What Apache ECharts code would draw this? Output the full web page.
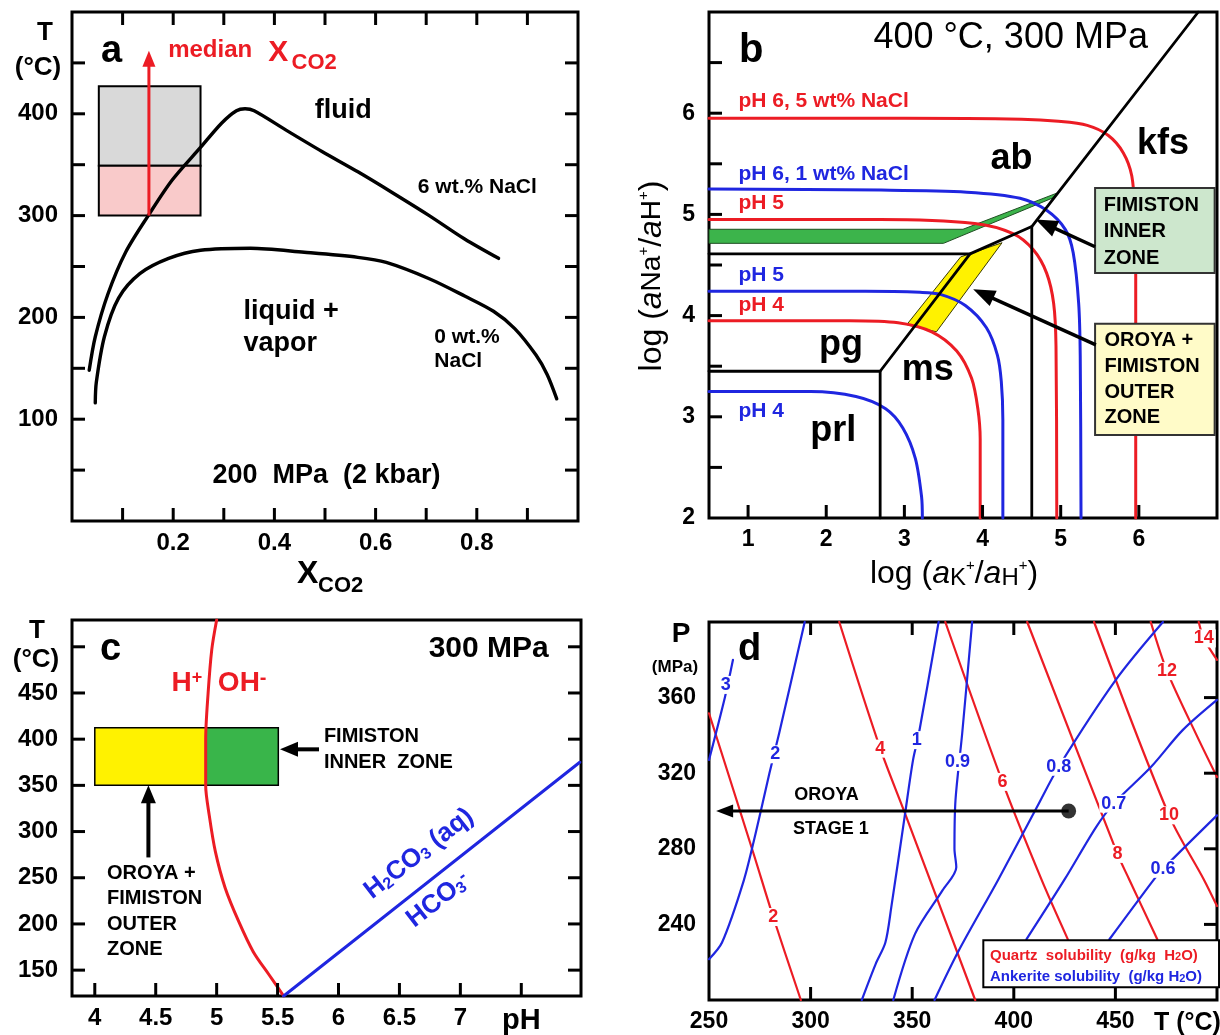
<!DOCTYPE html>
<html><head><meta charset="utf-8"><title>Phase diagrams</title>
<script src="https://cdn.jsdelivr.net/npm/echarts@6.0.0/dist/echarts.min.js"></script>
<style>html,body{margin:0;padding:0;background:#fff;}#chart{width:1220px;height:1035px;}</style>
</head><body><div id="chart"></div>
<script>
// ================= DATA =================
// ---- Panel a : T vs X_CO2, 200 MPa ----
const aXLabels = [0.2, 0.4, 0.6, 0.8];
const aXTicks = [0.1, 0.2, 0.3, 0.4, 0.5, 0.6, 0.7, 0.8, 0.9];
const aYLabels = [100, 200, 300, 400];
const aYTicks = [50, 100, 150, 200, 250, 300, 350, 400, 450];
const aNaCl6 = [[0.034,148],[0.046,181],[0.071,223],[0.106,264],[0.152,301],[0.198,335],[0.254,367],[0.296,391],[0.325,403],[0.342,405],[0.360,403],[0.423,384],[0.494,363],[0.565,343],[0.635,322],[0.706,300],[0.776,277],[0.843,258]];
const aNaCl0 = [[0.046,116],[0.048,136],[0.064,181],[0.092,219],[0.134,243],[0.191,258],[0.254,266],[0.353,268],[0.459,264],[0.565,259],[0.621,254],[0.706,238],[0.776,221],[0.833,206],[0.875,189],[0.917,163],[0.939,144],[0.958,120]];
const aBoxUpper = [[0.053,349],[0.254,427]];
const aBoxLower = [[0.053,300],[0.254,349]];
const aMedianArrow = [[0.152,300],[0.152,462]];

// ---- Panel b : log(aNa/aH) vs log(aK/aH), 400 C 300 MPa ----
const bXLabels = [1, 2, 3, 4, 5, 6];
const bYLabels = [2, 3, 4, 5, 6];
const bYTicks = [2.5, 3, 3.5, 4, 4.5, 5, 5.5, 6, 6.5];
const bRedPH6 = [[0.5,5.95],[3.0,5.95],[4.5,5.94],[4.97,5.92],[5.34,5.88],[5.61,5.78],[5.80,5.61],[5.91,5.38],[5.95,5.0],[5.96,4.5],[5.96,2.0]];
const bBluePH6 = [[0.5,5.25],[2.7,5.24],[3.8,5.22],[4.48,5.16],[4.82,5.04],[5.06,4.85],[5.16,4.62],[5.23,4.12],[5.25,3.6],[5.26,2.0]];
const bRedPH5 = [[0.5,4.95],[2.69,4.95],[3.9,4.91],[4.39,4.81],[4.65,4.65],[4.82,4.42],[4.91,4.12],[4.94,3.7],[4.95,2.0]];
const bBluePH5 = [[0.5,4.24],[2.5,4.24],[3.2,4.23],[3.46,4.21],[3.78,4.10],[4.05,3.88],[4.19,3.61],[4.24,3.35],[4.26,2.97],[4.26,2.0]];
const bRedPH4 = [[0.5,3.95],[2.3,3.95],[2.92,3.93],[3.35,3.84],[3.67,3.65],[3.86,3.38],[3.94,3.08],[3.97,2.78],[3.97,2.0]];
const bBluePH4 = [[0.5,3.25],[1.8,3.25],[2.38,3.2],[2.76,3.08],[2.98,2.89],[3.14,2.59],[3.22,2.21],[3.23,2.0]];
const bAbKfsLine = [[0.5,4.61],[3.84,4.61],[4.63,4.88],[6.76,7.0]];
const bMsKfsLine = [[4.63,4.88],[4.63,2.0]];
const bPgMsLine = [[3.84,4.61],[2.69,3.45]];
const bPrlLine = [[0.5,3.45],[2.69,3.45],[2.69,2.0]];
const bInnerPoly = [[0.5,4.714],[3.50,4.714],[4.89,5.16],[4.95,5.21],[3.75,4.853],[0.5,4.853]];
const bOuterPoly = [[3.03,3.91],[3.41,3.84],[4.25,4.72],[3.72,4.58]];
const bInnerBox = [[5.44,4.42],[6.97,5.26]];
const bOuterBox = [[5.44,2.82],[6.97,3.92]];
const bInnerArrow = [[5.44,4.68],[4.68,4.95]];
const bOuterArrow = [[5.45,3.71],[3.88,4.26]];

// ---- Panel c : T vs pH, 300 MPa ----
const cXLabels = [4, 4.5, 5, 5.5, 6, 6.5, 7, 7.5];
const cYTicks = [150, 200, 250, 300, 350, 400, 450, 500];
const cYLabels = [150, 200, 250, 300, 350, 400, 450];
const cNeutral = [[5.0,529],[4.96,497],[4.93,450],[4.91,400],[4.91,350],[4.94,317],[4.99,278],[5.07,239],[5.18,203],[5.30,170],[5.43,145],[5.55,122]];
const cCarbonate = [[5.55,122],[7.98,375]];
const cOuterBox = [[4.0,350],[4.9125,412.4]];
const cInnerBox = [[4.9125,350],[5.506,412.4]];
const cInnerArrow = [[5.84,389],[5.52,389]];
const cOuterArrow = [[4.44,272],[4.44,350]];

// ---- Panel d : P vs T, solubility contours ----
const dXLabels = [250, 300, 350, 400, 450];
const dXTicks = [300, 350, 400, 450];
const dYLabels = [240, 280, 320, 360];
const dQuartz2 = [[250,351.7],[271.9,277.5],[281.6,243.9],[295.2,200]];
const dQuartz4 = [[314.1,400],[334.3,333],[346.5,298.6],[381,200]];
const dQuartz6 = [[366.3,400],[394.4,315.4],[413.6,263.8],[426.6,232.1]];
const dQuartz8 = [[406.6,400],[451,277.3],[456.8,263.8],[470.6,232.1]];
const dQuartz10 = [[439.5,400],[476.4,297.7],[493.5,263.8],[500,249.7]];
const dQuartz12 = [[467.4,400],[475.4,374],[490,340],[500,318]];
const dQuartz14 = [[491,400],[493.5,391.3],[500,380]];
const dAnk3 = [[250,327],[257.9,360.5],[261.8,380]];
const dAnk2 = [[250,221.6],[256.4,230.4],[267.1,263.2],[272.9,288],[279.7,319.8],[284.5,341],[297.1,400]];
const dAnk1 = [[325.2,200],[332,219],[336.8,230.4],[339.7,249],[346.5,298.6],[350.4,326.9],[353.3,341],[363,400]];
const dAnk09 = [[340.7,200],[351.4,235],[364.9,258],[371.7,270.3],[370.8,280],[371.3,305.7],[374.6,341],[379.5,400]];
const dAnk08 = [[361,200],[372.8,225.9],[392.4,263.8],[411.4,302.1],[422.1,323.4],[450.2,369.4],[473.4,400]];
const dAnk07 = [[406.2,232.1],[425,263.8],[440.5,291.5],[449.2,303.9],[467.6,323.4],[483.1,342.8],[500,358.8]];
const dAnk06 = [[447,232],[469,263.8],[473.4,269.4],[500,297.7]];
const dLegendBox = [[385,206.7],[501,231.6]];
const dOroyaArrow = [[427,300],[253.5,300]];
const dOroyaDot = [[427,300]];

// ================= HELPERS =================
const FONT = '"Liberation Sans", Arial, Helvetica, sans-serif';
const RED = '#ec1c24', BLUE = '#1f26e0', BLACK = '#000';

function near(list, v){ return list.some(function(t){ return Math.abs(t - v) < 1e-6; }); }
function lineS(xi, yi, data, color, width, smooth, z){
  return {type:'line', xAxisIndex:xi, yAxisIndex:yi, data:data, symbol:'none', showSymbol:false,
    smooth: smooth || false, lineStyle:{color:color, width:width, cap:'round', join:'round'},
    itemStyle:{color:color}, z: z || 3, silent:true, animation:false};
}
function polyS(xi, yi, pts, fill, stroke, lw, z){
  return {type:'custom', xAxisIndex:xi, yAxisIndex:yi, data:[pts[0]], z: z || 2, silent:true, animation:false,
    renderItem:function(p, api){
      return {type:'polygon', shape:{points: pts.map(function(q){ return api.coord(q); })},
        style:{fill:fill, stroke: stroke || null, lineWidth: lw || 0}};
    }};
}
function rectPts(r){ return [[r[0][0],r[0][1]],[r[1][0],r[0][1]],[r[1][0],r[1][1]],[r[0][0],r[1][1]]]; }
function arrowS(xi, yi, pts, color, width, headLen, headW, z){
  return {type:'custom', xAxisIndex:xi, yAxisIndex:yi, data:[pts[0]], z: z || 6, silent:true, animation:false,
    renderItem:function(p, api){
      var a = api.coord(pts[0]), b = api.coord(pts[1]);
      var dx = b[0]-a[0], dy = b[1]-a[1], L = Math.hypot(dx, dy), ux = dx/L, uy = dy/L;
      var base = [b[0]-ux*headLen, b[1]-uy*headLen];
      var l = [base[0]-uy*headW/2, base[1]+ux*headW/2], r = [base[0]+uy*headW/2, base[1]-ux*headW/2];
      return {type:'group', children:[
        {type:'line', shape:{x1:a[0], y1:a[1], x2:base[0]+ux*2, y2:base[1]+uy*2}, style:{stroke:color, lineWidth:width}},
        {type:'polygon', shape:{points:[b, l, r]}, style:{fill:color}}
      ]};
    }};
}
// inward tick marks on one side of a grid; 'other' is the axis value of that border
function tickS(xi, yi, side, values, other){
  var isX = (side === 'bottom' || side === 'top');
  return {type:'custom', xAxisIndex:xi, yAxisIndex:yi, z:20, silent:true, animation:false,
    data: values.map(function(v){ return isX ? [v, other] : [other, v]; }),
    renderItem:function(p, api){
      var c = api.coord([api.value(0), api.value(1)]), L = 13, d;
      if (side === 'bottom') d = [0, -L]; else if (side === 'top') d = [0, L];
      else if (side === 'left') d = [L, 0]; else d = [-L, 0];
      return {type:'line', shape:{x1:c[0], y1:c[1], x2:c[0]+d[0], y2:c[1]+d[1]}, style:{stroke:BLACK, lineWidth:3}};
    }};
}
function textS(xi, yi, items, z){
  return {type:'custom', xAxisIndex:xi, yAxisIndex:yi, data: items.map(function(t){ return [t.x, t.y]; }),
    z: z || 10, silent:true, animation:false,
    renderItem:function(p, api){
      var t = items[p.dataIndex], c = api.coord([t.x, t.y]);
      var st = {text:t.t, fill:t.color || BLACK, fontSize:t.size || 20, fontWeight:t.weight || 'bold', fontFamily:FONT,
        align:t.align || 'center', verticalAlign:'middle', textAlign:t.align || 'center', textVerticalAlign:'middle'};
      if (t.rich) st.rich = t.rich;
      if (t.bg) { st.backgroundColor = t.bg; st.padding = [0, 2]; }
      return {type:'text', x:c[0], y:c[1], rotation:(t.rot || 0) * Math.PI / 180, style:st};
    }};
}
function gText(x, y, text, size, opts){
  opts = opts || {};
  var st = {text:text, fill:opts.color || BLACK, fontSize:size, fontWeight:opts.weight || 'bold', fontFamily:FONT,
    align:opts.align || 'center', verticalAlign:'middle', textAlign:opts.align || 'center', textVerticalAlign:'middle'};
  if (opts.rich) st.rich = opts.rich;
  return {type:'text', x:x, y:y, rotation:opts.rot || 0, style:st, z:100};
}
function rs(size, extra){ return Object.assign({fontSize:size, fontFamily:FONT, fill:BLACK, color:BLACK}, extra || {}); }

const NOTICK = {show:false};
function lab(size, extra){ return Object.assign({show:true, color:BLACK, fontWeight:'bold', fontFamily:FONT, fontSize:size, margin:12}, extra || {}); }
function gridBox(left, top, width, height){ return {left:left, top:top, width:width, height:height, show:true, borderColor:BLACK, borderWidth:3, backgroundColor:'rgba(0,0,0,0)'}; }

// ================= OPTION =================
const option = {
  animation:false,
  backgroundColor:'#fff',
  grid:[ gridBox(72,12,506,509), gridBox(709,12,508,506), gridBox(72,620,509,378), gridBox(709,622,510,378) ],
  xAxis:[
    {type:'value', gridIndex:0, min:0, max:1, interval:0.1, axisLine:{show:false}, splitLine:{show:false}, axisTick:NOTICK,
      axisLabel:lab(24, {margin:10, formatter:function(v){ return near(aXLabels, v) ? v.toFixed(1) : ''; }})},
    {type:'value', gridIndex:1, min:0.5, max:7, axisLine:{show:false}, splitLine:{show:false}, axisTick:NOTICK,
      axisLabel:lab(23, {margin:10, customValues:bXLabels})},
    {type:'value', gridIndex:2, min:3.813, max:7.99, axisLine:{show:false}, splitLine:{show:false}, axisTick:NOTICK,
      axisLabel:lab(24, {margin:10, customValues:cXLabels, formatter:function(v){ return Math.abs(v-7.5)<1e-6 ? '{p|pH}' : String(v); },
        rich:{p:{fontSize:29, fontWeight:'bold', fontFamily:FONT, color:BLACK}}})},
    {type:'value', gridIndex:3, min:250, max:500, interval:50, axisLine:{show:false}, splitLine:{show:false}, axisTick:NOTICK,
      axisLabel:lab(23, {margin:10, formatter:function(v){ return near(dXLabels, v) ? String(v) : ''; }})}
  ],
  yAxis:[
    {type:'value', gridIndex:0, min:0, max:500, interval:50, axisLine:{show:false}, splitLine:{show:false}, axisTick:NOTICK,
      axisLabel:lab(24, {margin:14, formatter:function(v){ return near(aYLabels, v) ? String(v) : ''; }})},
    {type:'value', gridIndex:1, min:2, max:7, interval:0.5, axisLine:{show:false}, splitLine:{show:false}, axisTick:NOTICK,
      axisLabel:lab(23, {margin:14, formatter:function(v){ return near(bYLabels, v) ? String(v) : ''; }})},
    {type:'value', gridIndex:2, min:122, max:529, axisLine:{show:false}, splitLine:{show:false}, axisTick:NOTICK,
      axisLabel:lab(24, {margin:14, customValues:cYLabels})},
    {type:'value', gridIndex:3, min:200, max:400, interval:40, axisLine:{show:false}, splitLine:{show:false}, axisTick:NOTICK,
      axisLabel:lab(23, {margin:13, formatter:function(v){ return near(dYLabels, v) ? String(v) : ''; }})}
  ],
  series:[
    // ---- ticks ----
    tickS(0,0,'bottom', aXTicks, 0), tickS(0,0,'top', aXTicks, 500),
    tickS(0,0,'left', aYTicks, 0), tickS(0,0,'right', aYTicks, 1),
    tickS(1,1,'bottom', bXLabels, 2), tickS(1,1,'left', bYTicks, 0.5),
    tickS(2,2,'bottom', cXLabels, 122), tickS(2,2,'left', cYTicks, 3.813), tickS(2,2,'right', cYTicks, 7.99),
    tickS(3,3,'bottom', dXTicks, 200), tickS(3,3,'top', dXTicks, 400), tickS(3,3,'right', dYLabels, 500),
    // ---- a ----
    polyS(0,0, rectPts(aBoxUpper), '#d9d9d9', BLACK, 2, 2),
    polyS(0,0, rectPts(aBoxLower), '#f9caca', BLACK, 2, 2),
    lineS(0,0, aNaCl6, BLACK, 3.4, 0.3),
    lineS(0,0, aNaCl0, BLACK, 3.4, 0.3),
    arrowS(0,0, aMedianArrow, RED, 3, 16, 13, 6),
    textS(0,0, [
      {x:0.078, y:461, t:'a', size:38},
      {x:0.19, y:462, t:'median', size:24, color:RED, align:'left'},
      {x:0.388, y:460, t:'X', size:30, color:RED, align:'left'},
      {x:0.434, y:450, t:'CO2', size:22, color:RED, align:'left'},
      {x:0.536, y:403, t:'fluid', size:27},
      {x:0.801, y:328, t:'6 wt.% NaCl', size:21},
      {x:0.339, y:206, t:'liquid +', size:27, align:'left'},
      {x:0.339, y:174, t:'vapor', size:27, align:'left'},
      {x:0.716, y:181, t:'0 wt.%', size:21, align:'left'},
      {x:0.716, y:157, t:'NaCl', size:21, align:'left'},
      {x:0.503, y:44.5, t:'200  MPa  (2 kbar)', size:27}
    ]),
    // ---- b ----
    polyS(1,1, bInnerPoly, '#3cb44b', '#1f4f22', 1, 2),
    polyS(1,1, bOuterPoly, '#fff200', '#3a3a00', 1, 2),
    lineS(1,1, bRedPH6, RED, 3, 0.3),
    lineS(1,1, bBluePH6, BLUE, 3, 0.3),
    lineS(1,1, bRedPH5, RED, 3, 0.3),
    lineS(1,1, bBluePH5, BLUE, 3, 0.3),
    lineS(1,1, bRedPH4, RED, 3, 0.3),
    lineS(1,1, bBluePH4, BLUE, 3, 0.3),
    lineS(1,1, bAbKfsLine, BLACK, 2.8, false, 4),
    lineS(1,1, bMsKfsLine, BLACK, 2.8, false, 4),
    lineS(1,1, bPgMsLine, BLACK, 2.8, false, 4),
    lineS(1,1, bPrlLine, BLACK, 2.8, false, 4),
    polyS(1,1, rectPts(bInnerBox), '#cde7cd', '#333', 2, 5),
    polyS(1,1, rectPts(bOuterBox), '#fffbc8', '#333', 2, 5),
    arrowS(1,1, bInnerArrow, BLACK, 3.5, 22, 17, 6),
    arrowS(1,1, bOuterArrow, BLACK, 3.5, 22, 17, 6),
    textS(1,1, [
      {x:1.04, y:6.61, t:'b', size:40},
      {x:4.36, y:6.74, t:'400 °C, 300 MPa', size:36, weight:'normal'},
      {x:4.37, y:5.55, t:'ab', size:36},
      {x:6.31, y:5.69, t:'kfs', size:36},
      {x:2.19, y:3.71, t:'pg', size:36},
      {x:3.30, y:3.46, t:'ms', size:36},
      {x:2.09, y:2.86, t:'prl', size:36},
      {x:0.876, y:6.12, t:'pH 6, 5 wt% NaCl', size:21, color:RED, align:'left'},
      {x:0.876, y:5.40, t:'pH 6, 1 wt% NaCl', size:21, color:BLUE, align:'left'},
      {x:0.876, y:5.11, t:'pH 5', size:21, color:RED, align:'left'},
      {x:0.876, y:4.40, t:'pH 5', size:21, color:BLUE, align:'left'},
      {x:0.876, y:4.10, t:'pH 4', size:21, color:RED, align:'left'},
      {x:0.876, y:3.06, t:'pH 4', size:21, color:BLUE, align:'left'},
      {x:5.55, y:5.093, t:'FIMISTON', size:20, align:'left'},
      {x:5.55, y:4.829, t:'INNER', size:20, align:'left'},
      {x:5.55, y:4.566, t:'ZONE', size:20, align:'left'},
      {x:5.56, y:3.75, t:'OROYA +', size:20, align:'left'},
      {x:5.56, y:3.50, t:'FIMISTON', size:20, align:'left'},
      {x:5.56, y:3.24, t:'OUTER', size:20, align:'left'},
      {x:5.56, y:2.99, t:'ZONE', size:20, align:'left'}
    ]),
    // ---- c ----
    polyS(2,2, rectPts(cOuterBox), '#fff200', BLACK, 1.5, 2),
    polyS(2,2, rectPts(cInnerBox), '#39b54a', BLACK, 1.5, 2),
    lineS(2,2, cNeutral, RED, 3, 0.3),
    lineS(2,2, cCarbonate, BLUE, 3, false),
    arrowS(2,2, cInnerArrow, BLACK, 4, 18, 15, 6),
    arrowS(2,2, cOuterArrow, BLACK, 4, 18, 15, 6),
    textS(2,2, [
      {x:4.13, y:497, t:'c', size:38},
      {x:7.725, y:498, t:'300 MPa', size:30, align:'right'},
      {x:4.63, y:461, t:'{b|H}{s|+}', size:28, color:RED, align:'left',
        rich:{b:rs(28,{fill:RED, color:RED, fontWeight:'bold'}), s:rs(18,{fill:RED, color:RED, fontWeight:'bold', verticalAlign:'top'})}},
      {x:5.01, y:461, t:'{b|OH}{s|-}', size:28, color:RED, align:'left',
        rich:{b:rs(28,{fill:RED, color:RED, fontWeight:'bold'}), s:rs(20,{fill:RED, color:RED, fontWeight:'bold', verticalAlign:'top'})}},
      {x:5.88, y:403.4, t:'FIMISTON', size:20, align:'left'},
      {x:5.88, y:374.7, t:'INNER  ZONE', size:20, align:'left'},
      {x:4.1, y:254.7, t:'OROYA +', size:20, align:'left'},
      {x:4.1, y:227.8, t:'FIMISTON', size:20, align:'left'},
      {x:4.1, y:199.8, t:'OUTER', size:20, align:'left'},
      {x:4.1, y:172.2, t:'ZONE', size:20, align:'left'},
      {x:6.66, y:276, t:'{n|H}{s|2}{n|CO}{s|3}{n| (aq)}', size:26, color:BLUE, rot:38,
        rich:{n:rs(26,{fill:BLUE, color:BLUE, fontWeight:'bold'}), s:rs(16,{fill:BLUE, color:BLUE, fontWeight:'bold', verticalAlign:'bottom'})}},
      {x:6.82, y:226, t:'{n|HCO}{s|3}{p|-}', size:26, color:BLUE, rot:38,
        rich:{n:rs(26,{fill:BLUE, color:BLUE, fontWeight:'bold'}), s:rs(16,{fill:BLUE, color:BLUE, fontWeight:'bold', verticalAlign:'bottom'}), p:rs(18,{fill:BLUE, color:BLUE, fontWeight:'bold', verticalAlign:'top'})}}
    ]),
    // ---- d ----
    lineS(3,3, dQuartz2, RED, 2.2, 0.3),
    lineS(3,3, dQuartz4, RED, 2.2, 0.3),
    lineS(3,3, dQuartz6, RED, 2.2, 0.3),
    lineS(3,3, dQuartz8, RED, 2.2, 0.3),
    lineS(3,3, dQuartz10, RED, 2.2, 0.3),
    lineS(3,3, dQuartz12, RED, 2.2, 0.3),
    lineS(3,3, dQuartz14, RED, 2.2, 0.3),
    lineS(3,3, dAnk3, BLUE, 2.2, 0.3),
    lineS(3,3, dAnk2, BLUE, 2.2, 0.3),
    lineS(3,3, dAnk1, BLUE, 2.2, 0.3),
    lineS(3,3, dAnk09, BLUE, 2.2, 0.3),
    lineS(3,3, dAnk08, BLUE, 2.2, 0.3),
    lineS(3,3, dAnk07, BLUE, 2.2, 0.3),
    lineS(3,3, dAnk06, BLUE, 2.2, 0.3),
    arrowS(3,3, dOroyaArrow, BLACK, 3, 17, 13, 6),
    {type:'scatter', xAxisIndex:3, yAxisIndex:3, data:dOroyaDot, symbolSize:15, itemStyle:{color:BLACK}, z:7, silent:true, animation:false},
    polyS(3,3, rectPts(dLegendBox), '#fff', BLACK, 2, 8),
    textS(3,3, [
      {x:281.6, y:243.9, t:'2', size:18, color:RED, bg:'#fff'},
      {x:334.3, y:333, t:'4', size:18, color:RED, bg:'#fff'},
      {x:394.4, y:315.4, t:'6', size:18, color:RED, bg:'#fff'},
      {x:451, y:277.3, t:'8', size:18, color:RED, bg:'#fff'},
      {x:476.4, y:297.7, t:'10', size:18, color:RED, bg:'#fff'},
      {x:475.4, y:374, t:'12', size:18, color:RED, bg:'#fff'},
      {x:493.5, y:391.3, t:'14', size:18, color:RED, bg:'#fff'},
      {x:258.3, y:366.7, t:'3', size:18, color:BLUE, bg:'#fff'},
      {x:282.6, y:330, t:'2', size:18, color:BLUE, bg:'#fff'},
      {x:352.3, y:337.5, t:'1', size:18, color:BLUE, bg:'#fff'},
      {x:372.3, y:326, t:'0.9', size:18, color:BLUE, bg:'#fff'},
      {x:422.1, y:323.4, t:'0.8', size:18, color:BLUE, bg:'#fff'},
      {x:449.2, y:303.9, t:'0.7', size:18, color:BLUE, bg:'#fff'},
      {x:473.4, y:269.4, t:'0.6', size:18, color:BLUE, bg:'#fff'},
      {x:270, y:385.3, t:'d', size:38},
      {x:307.8, y:308.3, t:'OROYA', size:18},
      {x:310, y:290.6, t:'STAGE 1', size:18}
    ], 9),
    textS(3,3, [
      {x:388.3, y:223.6, t:'{n|Quartz  solubility  (g/kg  H}{s|2}{n|O)}', size:15, color:RED, align:'left',
        rich:{n:rs(15,{fill:RED, color:RED, fontWeight:'bold'}), s:rs(11,{fill:RED, color:RED, fontWeight:'bold', verticalAlign:'bottom'})}},
      {x:388.3, y:212.4, t:'{n|Ankerite solubility  (g/kg H}{s|2}{n|O)}', size:15, color:BLUE, align:'left',
        rich:{n:rs(15,{fill:BLUE, color:BLUE, fontWeight:'bold'}), s:rs(11,{fill:BLUE, color:BLUE, fontWeight:'bold', verticalAlign:'bottom'})}}
    ], 12)
  ],
  graphic:[
    gText(45, 33, 'T', 26),
    gText(38, 68, '(°C)', 26),
    gText(297, 574, 'X', 32, {align:'left'}),
    gText(318, 586, 'CO2', 22, {align:'left'}),
    gText(954, 574, '{n|log (}{i|a}{k|K}{p|+}{n|/}{i|a}{k|H}{p|+}{n|)}', 32, {weight:'normal',
      rich:{n:rs(32), i:rs(32,{fontStyle:'italic'}), k:rs(24,{verticalAlign:'bottom'}), p:rs(15,{verticalAlign:'top'})}}),
    gText(652, 276, '{n|log (}{i|a}{k|Na}{p|+}{n|/}{i|a}{k|H}{p|+}{n|)}', 32, {weight:'normal', rot:Math.PI/2,
      rich:{n:rs(32), i:rs(32,{fontStyle:'italic'}), k:rs(28), p:rs(15,{verticalAlign:'top'})}}),
    gText(37, 631, 'T', 26),
    gText(36, 660, '(°C)', 26),
    gText(681, 634, 'P', 28),
    gText(675, 667, '(MPa)', 17),
    gText(1154, 1023, 'T (°C)', 25, {align:'left'})
  ]
};

const chart = echarts.init(document.getElementById('chart'), null, {renderer:'canvas'});
chart.setOption(option);
</script>
</body></html>
